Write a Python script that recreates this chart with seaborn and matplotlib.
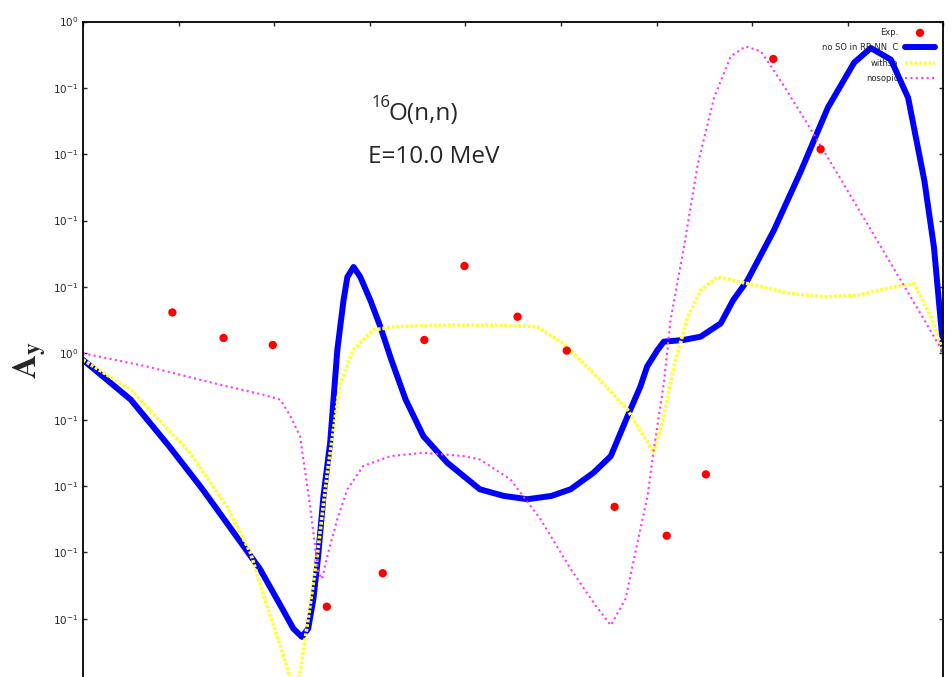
import matplotlib
matplotlib.use("Agg")
import matplotlib.pyplot as plt
import seaborn as sns

# experimental analyzing power, 16O(n,n) at 10 MeV
exp_angle = [18.7, 29.4, 39.7, 51.0, 62.7, 71.4, 79.8, 90.9, 101.2, 111.2, 122.1, 130.3, 144.4, 154.3]
exp_ay = [0.123, 0.046, 0.025, -0.764, -0.663, 0.040, 0.263, 0.110, 0.008, -0.463, -0.550, -0.365, 0.887, 0.615]

# calculation: no SO in RR-NN
noso_angle = [0, 5, 10, 18, 25, 31, 37, 41.3, 44, 45.8, 47.1, 48.2, 49.2, 50.3, 51.7, 53.2, 54.5, 55.3, 56.6, 58,
              60.1, 62.2, 64.5, 67.5, 71.2, 76.2, 83, 88, 93, 98, 102, 106.8, 110.4, 113.9, 116.6, 118, 120.2, 121.5,
              125.6, 129.2, 131.3, 133.4, 136, 139, 144.5, 150.2, 155.8, 161.3, 164.8, 169, 172.6, 176, 178, 180]
noso_ay = [-0.02, -0.08, -0.14, -0.28, -0.41, -0.53, -0.65, -0.76, -0.83, -0.855, -0.83, -0.74, -0.61, -0.43, -0.27,
           0.01, 0.16, 0.23, 0.26, 0.23, 0.16, 0.08, -0.02, -0.14, -0.25, -0.33, -0.41, -0.43, -0.44, -0.43, -0.41,
           -0.36, -0.31, -0.19, -0.10, -0.04, 0.01, 0.035, 0.04, 0.05, 0.07, 0.09, 0.16, 0.22, 0.37, 0.55, 0.74,
           0.876, 0.92, 0.885, 0.77, 0.52, 0.32, 0.005]

# calculation: withso
withso_angle = [0, 10, 22.4, 30, 35, 38.1, 41, 43.4, 44.3, 45.2, 46.9, 49, 51.1, 53.8, 56.5, 60.7, 65, 75, 85, 95,
                100.4, 106.8, 113.9, 119.4, 121.5, 123.6, 126.5, 129.2, 132.8, 139, 148, 155, 162, 169.6, 173.8,
                177.4, 180]
withso_ay = [-0.02, -0.11, -0.30, -0.46, -0.60, -0.745, -0.87, -0.98, -1.0, -0.98, -0.82, -0.61, -0.36, -0.09, 0.01,
             0.07, 0.08, 0.085, 0.085, 0.08, 0.03, -0.06, -0.17, -0.30, -0.19, -0.04, 0.11, 0.19, 0.23, 0.21, 0.18,
             0.17, 0.175, 0.2, 0.21, 0.11, 0.0]

# calculation: nosopic
nosopic_angle = [0, 13.4, 27.3, 37.7, 41.3, 43.4, 45.4, 47.5, 49.2, 50, 51.3, 53.2, 55.3, 58.6, 64.3, 71.2, 79.6, 83,
                 89.4, 95.7, 102, 107.2, 110.4, 113.5, 116.6, 118.1, 119.4, 121.5, 122.9, 125.7, 128.6, 132, 135.5,
                 138.6, 141.8, 146, 151.6, 155.8, 162, 169, 176, 180]
nosopic_ay = [0.0, -0.04, -0.09, -0.125, -0.14, -0.19, -0.25, -0.46, -0.66, -0.68, -0.60, -0.50, -0.41, -0.34, -0.31,
              -0.30, -0.31, -0.32, -0.38, -0.50, -0.65, -0.76, -0.82, -0.74, -0.53, -0.43, -0.29, -0.09, 0.10, 0.32,
              0.57, 0.77, 0.895, 0.925, 0.91, 0.82, 0.69, 0.59, 0.44, 0.27, 0.10, 0.0]

# tick labels as printed on the original figure (the -1 one is cropped away)
ytick_vals = [1.0, 0.8, 0.6, 0.4, 0.2, 0.0, -0.2, -0.4, -0.6, -0.8, -1.0]
ytick_text = [r"$10^{0}$", r"$10^{-1}$", r"$10^{-1}$", r"$10^{-1}$", r"$10^{-1}$", r"$10^{0}$",
              r"$10^{-1}$", r"$10^{-1}$", r"$10^{-1}$", r"$10^{-1}$", ""]

sns.set_style("ticks")
plt.rcParams["font.family"] = ["DejaVu Sans"]

fig = plt.figure(figsize=(9.53, 6.77), dpi=100)
ax = fig.add_axes([83 / 953, -8 / 677, 860.5 / 953, 663.5 / 677])

sns.lineplot(x=noso_angle, y=noso_ay, color="#0000ff", lw=4.3, ax=ax, estimator=None, sort=False,
             label="no SO in RR-NN  C")
sns.lineplot(x=withso_angle, y=withso_ay, color="#ffff33", lw=2.6, ax=ax, estimator=None, sort=False,
             linestyle=(0, (0.8, 0.5)), label="withso")
sns.lineplot(x=nosopic_angle, y=nosopic_ay, color="#ff33ff", lw=1.5, ax=ax, estimator=None, sort=False,
             linestyle=(0, (1, 1.6)), label="nosopic")
sns.scatterplot(x=exp_angle, y=exp_ay, color="#ff0000", s=36, edgecolor="none", ax=ax, zorder=5, label="Exp.")

ax.set_xlim(0, 180)
ax.set_ylim(-1, 1)
ax.set_xticks(range(0, 181, 20))
ax.set_xticklabels([])
ax.set_yticks(ytick_vals)
ax.set_yticklabels(ytick_text, fontsize=7.5)
ax.tick_params(direction="in", length=3, width=1, top=True, right=True, pad=3)
for sp in ax.spines.values():
    sp.set_linewidth(1.3)
    sp.set_color("black")

handles, labels = ax.get_legend_handles_labels()
order = [labels.index(k) for k in ["Exp.", "no SO in RR-NN  C", "withso", "nosopic"]]
ax.legend([handles[i] for i in order], [labels[i] for i in order], loc="upper right",
          bbox_to_anchor=(935 / 953, 1 - 28 / 677), bbox_transform=fig.transFigure,
          frameon=False, markerfirst=False, fontsize=6, handlelength=3.6, handletextpad=0.8,
          labelspacing=0.75, borderpad=0, borderaxespad=0)

fig.text(372 / 953, 1 - 107 / 677, "16", fontsize=12, family="Open Sans", ha="left", va="baseline")
fig.text(388 / 953, 1 - 120 / 677, "O(n,n)", fontsize=17.5, family="Open Sans", ha="left", va="baseline")
fig.text(368 / 953, 1 - 163 / 677, "E=10.0 MeV", fontsize=17.5, family="Open Sans", ha="left", va="baseline")

fig.text(30 / 953, 1 - 360 / 677, r"$\mathbf{A_y}$", fontsize=24, math_fontfamily="stix",
         rotation=90, ha="center", va="center")

fig.savefig("out.png", dpi=100)
